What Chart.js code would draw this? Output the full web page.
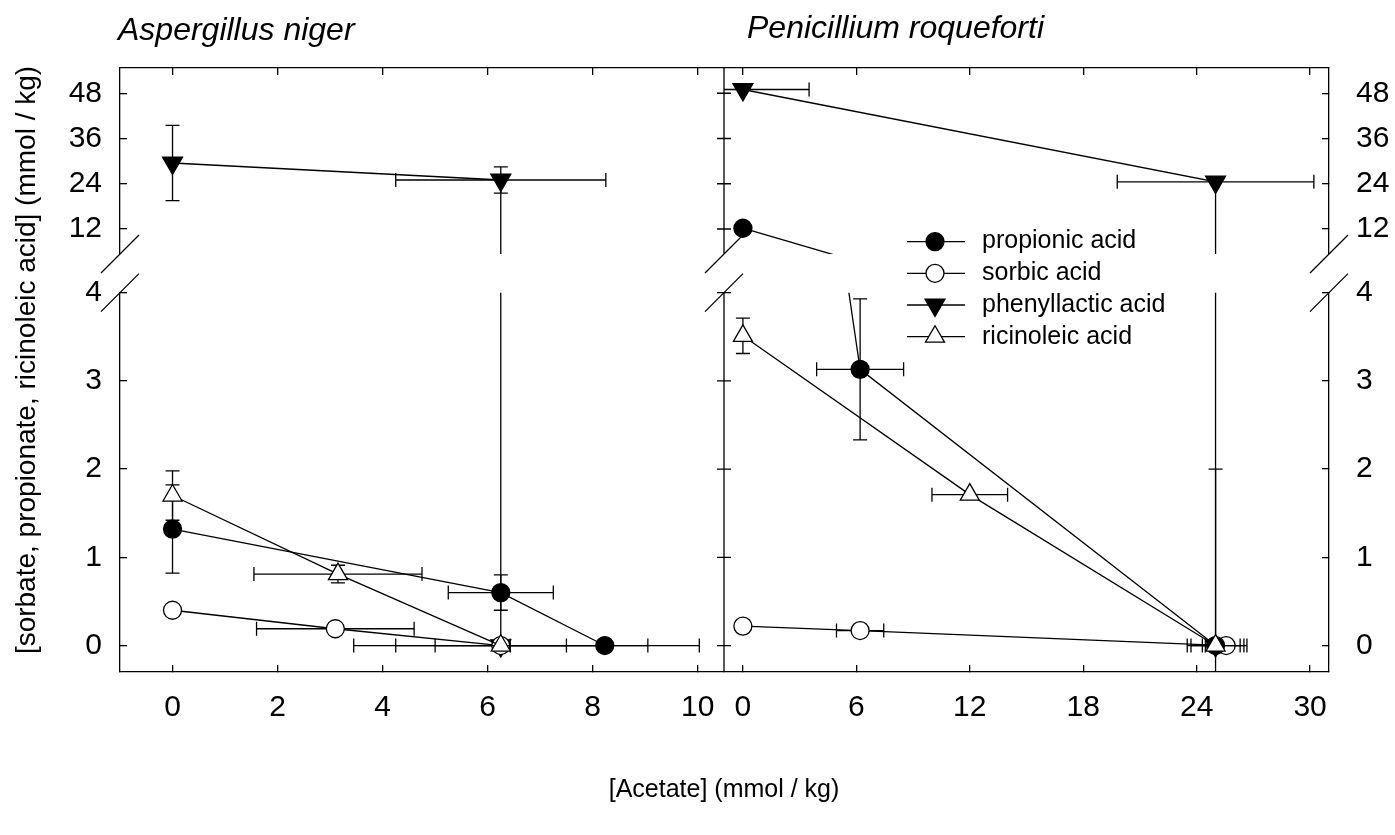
<!DOCTYPE html>
<html>
<head>
<meta charset="utf-8">
<script src="https://cdn.jsdelivr.net/npm/chart.js@4.4.0/dist/chart.umd.min.js"></script>
<style>
  html, body { margin: 0; padding: 0; background: #fff; }
  #wrap { position: relative; width: 1395px; height: 835px; }
</style>
</head>
<body>
<div id="wrap"><canvas id="chart" width="1395" height="835"></canvas></div>
<script>
// legend order
const seriesNames = ['propionic acid', 'sorbic acid', 'phenyllactic acid', 'ricinoleic acid'];

// Aspergillus niger - rows: [acetate, value, x error, y error]
const anPropionic = [[0, 1.32, 0, 0.5], [6.25, 0.6, 1.0, 0.2], [8.23, 0, 1.8, 0]];
const anSorbic = [[0, 0.4, 0, 0], [3.1, 0.19, 1.5, 0], [6.25, 0, 2.0, 0]];
const anPhenyllactic = [[0, 29.5, 0, 10], [6.25, 25, 2.0, 3.5], [6.25, 0, 2.8, 0]];
const anRicinoleic = [[0, 1.7, 0, 0.28], [3.15, 0.81, 1.6, 0.1], [6.25, 0, 1.25, 0]];

// Penicillium roqueforti
const prPropionic = [[0, 12.2, 0, 0], [6.2, 3.13, 2.3, 0.8], [25, 0, 1.3, 0]];
const prSorbic = [[0, 0.22, 0, 0], [6.2, 0.17, 1.25, 0], [25.56, 0, 1.1, 0]];
const prPhenyllactic = [[0, 49, 3.5, 0], [25, 24.5, 5.2, 0], [25, 0, 0.7, 2]];
const prRicinoleic = [[0, 3.51, 0, 0.2], [12, 1.71, 2.0, 0], [25, 0, 1.5, 0]];

// ticks
const xTicksAn = [0, 2, 4, 6, 8, 10];
const xTicksPr = [0, 6, 12, 18, 24, 30];
const yTicksLow = [0, 1, 2, 3, 4];
const yTicksHigh = [12, 24, 36, 48];

// value ranges above and below the break
const HI = [5.37, 54.7], LO = [-0.3, 4];

const FONT = "'Liberation Sans', Arial, sans-serif";

const markers = {
  'propionic acid': {pointStyle: 'circle', radius: 9, fill: '#000', rotation: 0},
  'sorbic acid': {pointStyle: 'circle', radius: 9, fill: '#fff', rotation: 0},
  'phenyllactic acid': {pointStyle: 'triangle', radius: 11.5, fill: '#000', rotation: 180},
  'ricinoleic acid': {pointStyle: 'triangle', radius: 11, fill: '#fff', rotation: 0}
};

function makeSet(rows, name, xId, yId, range) {
  const m = markers[name];
  // markers outside the block are not drawn, the line is clipped
  const radius = rows.map(r => (r[1] >= range[0] && r[1] <= range[1]) ? m.radius : 0);
  return {
    label: name,
    xAxisID: xId,
    yAxisID: yId,
    data: rows.map(r => ({x: r[0], y: r[1]})),
    errX: rows.map(r => r[2]),
    errY: rows.map(r => r[3]),
    showLine: true,
    borderColor: '#000',
    borderWidth: 1.3,
    pointStyle: m.pointStyle,
    pointRotation: m.rotation,
    pointRadius: radius,
    pointHoverRadius: radius,
    pointBackgroundColor: m.fill,
    pointBorderColor: '#000',
    pointBorderWidth: 1.3
  };
}

// each series is drawn twice per panel: once above the axis break, once below
const datasets = [];
[['xAn', [[anRicinoleic, 'ricinoleic acid'], [anPropionic, 'propionic acid'], [anSorbic, 'sorbic acid'], [anPhenyllactic, 'phenyllactic acid']]],
 ['xPr', [[prRicinoleic, 'ricinoleic acid'], [prPropionic, 'propionic acid'], [prSorbic, 'sorbic acid'], [prPhenyllactic, 'phenyllactic acid']]]
].forEach(([xId, list]) => {
  list.forEach(([rows, name]) => {
    datasets.push(makeSet(rows, name, xId, 'yLoL', LO));
    datasets.push(makeSet(rows, name, xId, 'yHiL', HI));
  });
});

const grid = {display: true, drawOnChartArea: false, drawTicks: true, tickLength: -7, color: '#000', lineWidth: 1.3};
const border = {display: true, color: '#000', width: 1.3};
const tickFont = {family: FONT, size: 30};

function xAxis(pos, min, max, weight, order, ticks) {
  return {
    type: 'linear', position: pos, stack: pos === 'bottom' ? 'xb' : 'xt', stackWeight: weight, weight: order,
    min: min, max: max, grid: grid, border: border,
    afterBuildTicks: s => { s.ticks = ticks.map(v => ({value: v})); },
    afterFit: s => { s.height = pos === 'bottom' ? 163 : 68; },
    ticks: {display: pos === 'bottom', autoSkip: false, maxRotation: 0, padding: 25, color: '#000', font: tickFont}
  };
}

function yAxis(pos, min, max, weight, order, ticks) {
  return {
    type: 'linear', position: pos, stack: pos === 'left' ? 'yl' : 'yr', stackWeight: weight, weight: order,
    min: min, max: max, grid: grid, border: border,
    afterBuildTicks: s => { s.ticks = ticks.map(v => ({value: v})); },
    afterFit: s => { s.width = pos === 'left' ? 120 : 66; },
    ticks: {autoSkip: false, padding: pos === 'left' ? 25 : 34, color: '#000', font: tickFont}
  };
}

function gapAxis(pos, order) {
  return {
    type: 'linear', position: pos, stack: pos === 'left' ? 'yl' : 'yr', stackWeight: 38.6, weight: order,
    min: 0, max: 1,
    grid: {display: false}, border: {display: false}, ticks: {display: false},
    afterFit: s => { s.width = pos === 'left' ? 120 : 66; }
  };
}

// error bars, clipping to the axis block, texts, breaks, legend
const panelPlugin = {
  id: 'panelPlugin',
  beforeDatasetDraw(chart, args) {
    const ctx = chart.ctx;
    const xs = args.meta.xScale, ys = args.meta.yScale;
    const ds = chart.data.datasets[args.index];
    ctx.save();
    ctx.beginPath();
    ctx.rect(xs.left, ys.top, xs.width, ys.height);
    ctx.clip();
    ctx.strokeStyle = '#000';
    ctx.lineWidth = 1.3;
    const cap = 7;
    ds.data.forEach((p, i) => {
      const px = xs.getPixelForValue(p.x), py = ys.getPixelForValue(p.y);
      const ex = ds.errX[i], ey = ds.errY[i];
      ctx.beginPath();
      if (ey) {
        const y1 = ys.getPixelForValue(p.y + ey), y2 = ys.getPixelForValue(p.y - ey);
        ctx.moveTo(px, y1); ctx.lineTo(px, y2);
        ctx.moveTo(px - cap, y1); ctx.lineTo(px + cap, y1);
        ctx.moveTo(px - cap, y2); ctx.lineTo(px + cap, y2);
      }
      if (ex) {
        const x1 = xs.getPixelForValue(p.x - ex), x2 = xs.getPixelForValue(p.x + ex);
        ctx.moveTo(x1, py); ctx.lineTo(x2, py);
        ctx.moveTo(x1, py - cap); ctx.lineTo(x1, py + cap);
        ctx.moveTo(x2, py - cap); ctx.lineTo(x2, py + cap);
      }
      ctx.stroke();
    });
  },
  afterDatasetDraw(chart) {
    chart.ctx.restore();
  },
  afterDraw(chart) {
    const ctx = chart.ctx;
    const s = chart.scales;
    const area = chart.chartArea;
    const xMid = s.xAn.right;
    ctx.save();
    ctx.strokeStyle = '#000';
    ctx.lineWidth = 1.3;

    // border between the two panels, ticks crossing it
    ctx.beginPath();
    ctx.moveTo(xMid, s.yHiL.top); ctx.lineTo(xMid, s.yHiL.bottom);
    ctx.moveTo(xMid, s.yLoL.top); ctx.lineTo(xMid, s.yLoL.bottom);
    yTicksHigh.forEach(v => {
      const y = s.yHiL.getPixelForValue(v);
      ctx.moveTo(xMid - 7, y); ctx.lineTo(xMid + 7, y);
    });
    yTicksLow.forEach(v => {
      const y = s.yLoL.getPixelForValue(v);
      ctx.moveTo(xMid - 7, y); ctx.lineTo(xMid + 7, y);
    });
    // axis break marks
    [area.left, xMid, area.right].forEach(x => {
      [s.yHiL.bottom, s.yLoL.top].forEach(y => {
        ctx.moveTo(x - 19, y + 19); ctx.lineTo(x + 19, y - 19);
      });
    });
    ctx.stroke();

    // titles
    ctx.fillStyle = '#000';
    ctx.textBaseline = 'middle';
    ctx.textAlign = 'left';
    ctx.font = 'italic 32px ' + FONT;
    ctx.fillText('Aspergillus niger', 118, 31);
    ctx.fillText('Penicillium roqueforti', 747, 29);

    ctx.font = '25px ' + FONT;
    ctx.textAlign = 'center';
    ctx.fillText('[Acetate] (mmol / kg)', 724, 790);
    ctx.font = '28px ' + FONT;
    ctx.save();
    ctx.translate(27, 360);
    ctx.rotate(-Math.PI / 2);
    ctx.fillText('[sorbate, propionate, ricinoleic acid] (mmol / kg)', 0, 0);
    ctx.restore();

    // legend
    ctx.font = '25px ' + FONT;
    ctx.textAlign = 'left';
    seriesNames.forEach((name, i) => {
      const y = 241.6 + i * 31.7;
      const m = markers[name];
      ctx.beginPath();
      ctx.moveTo(907, y); ctx.lineTo(965, y);
      ctx.stroke();
      ctx.fillStyle = m.fill;
      Chart.helpers.drawPoint(ctx, {pointStyle: m.pointStyle, rotation: m.rotation, radius: m.radius, borderWidth: 1.3}, 935, y);
      ctx.fillStyle = '#000';
      ctx.fillText(name, 982, y);
    });
    ctx.restore();
  }
};

new Chart(document.getElementById('chart').getContext('2d'), {
  type: 'scatter',
  data: {datasets: datasets},
  options: {
    responsive: false,
    animation: false,
    layout: {padding: 0, autoPadding: false},
    plugins: {legend: {display: false}, tooltip: {enabled: false}},
    scales: {
      xAn: xAxis('bottom', -1, 10.5, 604, 1, xTicksAn),
      xPr: xAxis('bottom', -1, 31, 605, 2, xTicksPr),
      xAnTop: xAxis('top', -1, 10.5, 604, 2, xTicksAn),
      xPrTop: xAxis('top', -1, 31, 605, 1, xTicksPr),
      yHiL: yAxis('left', HI[0], HI[1], 186, 3, yTicksHigh),
      yGapL: gapAxis('left', 2),
      yLoL: yAxis('left', LO[0], LO[1], 379.4, 1, yTicksLow),
      yHiR: yAxis('right', HI[0], HI[1], 186, 1, yTicksHigh),
      yGapR: gapAxis('right', 2),
      yLoR: yAxis('right', LO[0], LO[1], 379.4, 3, yTicksLow)
    }
  },
  plugins: [panelPlugin]
});
</script>
</body>
</html>
